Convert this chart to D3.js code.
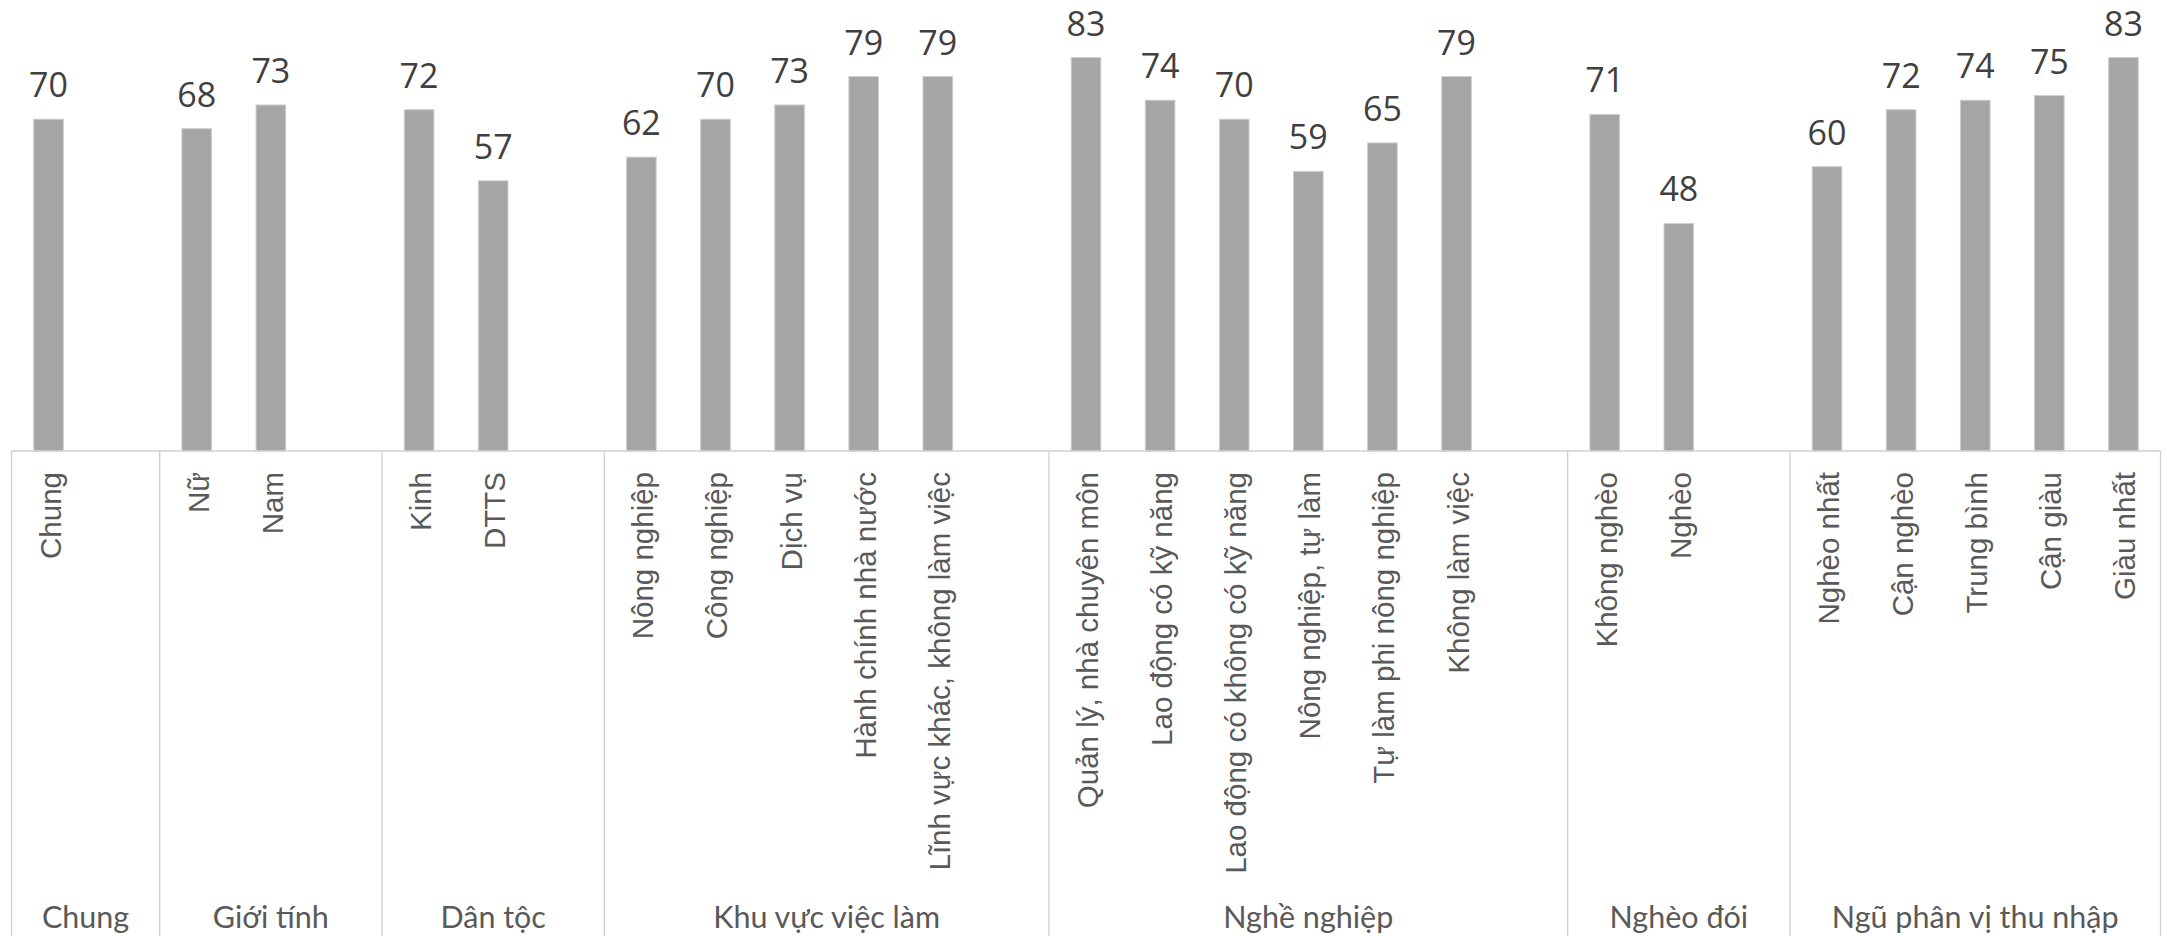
<!DOCTYPE html>
<html>
<head>
<meta charset="utf-8">
<script src="https://cdn.jsdelivr.net/npm/d3@7"></script>
<style>
  html, body { margin: 0; padding: 0; background: #ffffff; }
  svg { display: block; }
</style>
</head>
<body>
<svg id="chart" width="2167" height="936"></svg>
<script>
// ---- Data ----
const groups = ["Chung", "Giới tính", "Dân tộc", "Khu vực việc làm", "Nghề nghiệp", "Nghèo đói", "Ngũ phân vị thu nhập"];
const categories = [
  "Chung",
  "Nữ", "Nam",
  "Kinh", "DTTS",
  "Nông nghiệp", "Công nghiệp", "Dịch vụ", "Hành chính nhà nước", "Lĩnh vực khác, không làm việc",
  "Quản lý, nhà chuyên môn", "Lao động có kỹ năng", "Lao động có không có kỹ năng", "Nông nghiệp, tự làm", "Tự làm phi nông nghiệp", "Không làm việc",
  "Không nghèo", "Nghèo",
  "Nghèo nhất", "Cận nghèo", "Trung bình", "Cận giàu", "Giàu nhất"
];
const categoryGroup = [0, 1, 1, 2, 2, 3, 3, 3, 3, 3, 4, 4, 4, 4, 4, 4, 5, 5, 6, 6, 6, 6, 6];
const values = [70, 68, 73, 72, 57, 62, 70, 73, 79, 79, 83, 74, 70, 59, 65, 79, 71, 48, 60, 72, 74, 75, 83];
const yDomain = [0, 90];

// ---- Build slots: each group's categories followed by one empty slot (except the last) ----
const slots = [];
groups.forEach((g, gi) => {
  categories.forEach((c, ci) => {
    if (categoryGroup[ci] === gi) slots.push({ key: "c" + ci, cat: ci, group: gi });
  });
  if (gi < groups.length - 1) slots.push({ key: "blank" + gi, cat: null, group: gi });
});

const svg = d3.select("#chart");
const axisY = 451;
const left = 11.5, right = 2160.5;

const x = d3.scaleBand()
  .domain(slots.map(s => s.key))
  .range([left, right])
  .paddingInner(0.6)
  .paddingOuter(0.3);

const y = d3.scaleLinear().domain(yDomain).range([axisY, axisY - 4.74 * 90]);

const step = x.step();
const halfGap = (step - x.bandwidth()) / 2;

// ---- Bars ----
const barData = categories.map((c, i) => ({ cat: c, value: values[i], key: "c" + i }));

svg.append("g").selectAll("rect")
  .data(barData)
  .join("rect")
  .attr("x", d => x(d.key))
  .attr("y", d => y(d.value))
  .attr("width", x.bandwidth())
  .attr("height", d => y(0) - y(d.value))
  .attr("fill", "#a5a5a5")
  .attr("stroke", "#cfcfcf")
  .attr("stroke-width", 1);

// ---- Data labels ----
svg.append("g").selectAll("text")
  .data(barData)
  .join("text")
  .attr("x", d => x(d.key) + x.bandwidth() / 2)
  .attr("y", d => y(d.value) - 22)
  .attr("text-anchor", "middle")
  .attr("font-family", "'Open Sans', sans-serif")
  .attr("font-size", 34)
  .attr("fill", "#404040")
  .text(d => d.value);

// ---- Category axis (line + group separators) ----
const axisG = svg.append("g");
axisG.append("line")
  .attr("x1", left).attr("x2", right)
  .attr("y1", axisY).attr("y2", axisY)
  .attr("stroke", "#d0d0d0").attr("stroke-width", 1.3);

// group spans
const groupSpans = groups.map((g, gi) => {
  const s = slots.filter(d => d.group === gi);
  const x0 = x(s[0].key) - halfGap;
  const x1 = x(s[s.length - 1].key) + x.bandwidth() + halfGap;
  return { name: g, x0, x1 };
});

const boundaries = [groupSpans[0].x0].concat(groupSpans.map(d => d.x1));
axisG.selectAll("line.sep")
  .data(boundaries)
  .join("line")
  .attr("class", "sep")
  .attr("x1", d => d).attr("x2", d => d)
  .attr("y1", axisY).attr("y2", 936)
  .attr("stroke", "#d0d0d0").attr("stroke-width", 1.3);

// rotated category labels
axisG.selectAll("text.cat")
  .data(barData)
  .join("text")
  .attr("class", "cat")
  .attr("transform", d => `translate(${x(d.key) + x.bandwidth() / 2 + 12},${472})rotate(-90)`)
  .attr("text-anchor", "end")
  .attr("font-family", "'Liberation Sans', Arial, sans-serif")
  .attr("font-size", 29.5)
  .attr("fill", "#595959")
  .text(d => d.cat);

// group labels
axisG.selectAll("text.grp")
  .data(groupSpans)
  .join("text")
  .attr("class", "grp")
  .attr("x", d => (d.x0 + d.x1) / 2)
  .attr("y", 928)
  .attr("text-anchor", "middle")
  .attr("font-family", "Lato, sans-serif")
  .attr("font-size", 30.5)
  .attr("fill", "#595959")
  .text(d => d.name);
</script>
</body>
</html>
